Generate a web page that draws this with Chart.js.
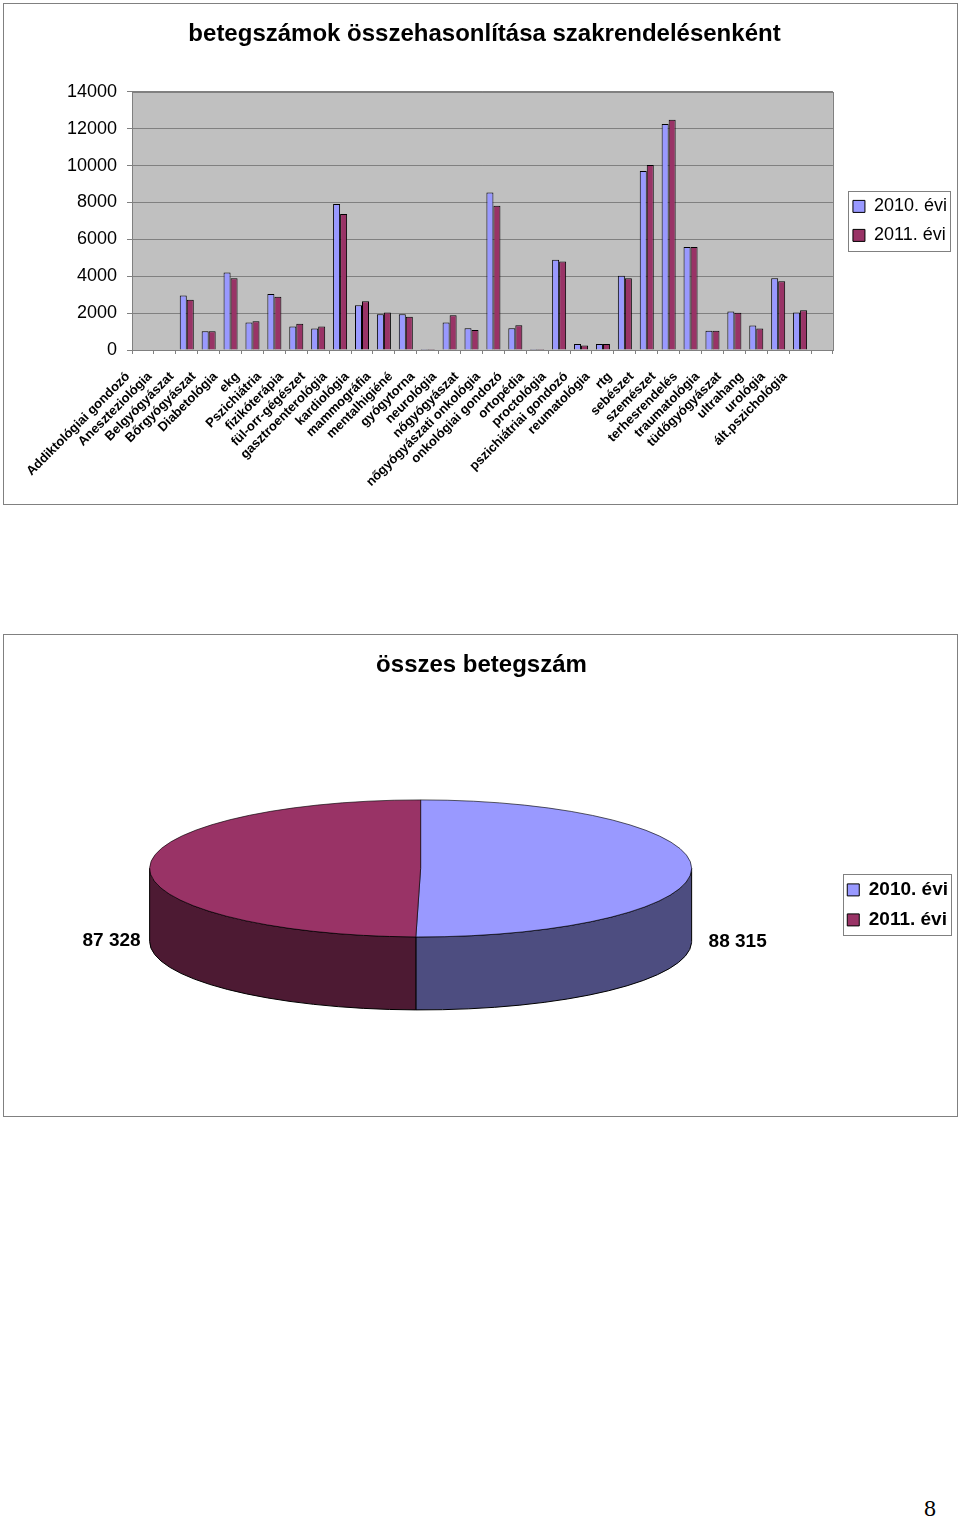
<!DOCTYPE html>
<html><head><meta charset="utf-8">
<script src="https://cdn.jsdelivr.net/npm/chart.js@4.4.1/dist/chart.umd.min.js"></script>
<style>
html,body{margin:0;padding:0;background:#fff;}
body{width:960px;height:1518px;position:relative;overflow:hidden;font-family:"Liberation Sans",Arial,sans-serif;}
.box{position:absolute;left:3px;width:953px;border:1px solid #808080;background:#fff;}
#box1{top:3px;height:500px;}
#box2{top:634px;height:481px;}
canvas{display:block;}
#pageno{position:absolute;left:924px;top:1496px;line-height:24px;font-family:"Liberation Serif","Times New Roman",serif;font-size:24px;color:#000;}
</style></head><body>
<div class="box" id="box1"><canvas id="c1" width="953" height="500"></canvas></div>
<div class="box" id="box2"><canvas id="c2" width="953" height="481"></canvas></div>
<div id="pageno">8</div>
<script>
const FONT = '"Liberation Sans", Arial, Helvetica, sans-serif';

// ---- data: bar chart ----
const barTitle = 'betegszámok összehasonlítása szakrendelésenként';
const categories = ['Addiktológiai gondozó','Aneszteziológia','Belgyógyászat','Bőrgyógyászat','Diabetológia','ekg','Pszichiátria','fizikóterápia','fül-orr-gégészet','gasztroenterológia','kardiológia','mammográfia','mentalhigiéné','gyógytorna','neurológia','nőgyógyászat','nőgyógyászati onkológia','onkológiai gondozó','ortopédia','proctológia','pszichiátriai gondozó','reumatológia','rtg','sebészet','szemészet','terhesrendelés','traumatológia','tüdőgyógyászat','ultrahang','urológia','ált.pszichológia',''];
const seriesNames = ['2010. évi','2011. évi'];
const values2010 = [null, null, 2960, 1020, 4200, 1490, 3030, 1270, 1160, 7920, 2420, 1940, 1940, 60, 1490, 1180, 8540, 1180, 60, 4900, 330, 330, 4030, 9700, 12250, 5580, 1040, 2090, 1330, 3890, 2040, null];
const values2011 = [null, null, 2730, 1020, 3890, 1560, 2890, 1420, 1270, 7380, 2640, 2040, 1800, 60, 1890, 1090, 7820, 1340, 60, 4800, 240, 330, 3890, 10030, 12490, 5580, 1040, 2020, 1160, 3730, 2160, null];
const yMin = 0, yMax = 14000, yStep = 2000;

// ---- data: pie chart ----
const pieTitle = 'összes betegszám';
const pieLabels = ['2010. évi','2011. évi'];
const pieValues = [88315, 87328];

const fmtThousands = v => String(v).replace(/\B(?=(\d{3})+(?!\d))/g, ' ');

const plotBg = {
  id: 'plotBg',
  beforeDraw(chart, args, o) {
    const {ctx, chartArea: a} = chart;
    ctx.save(); ctx.fillStyle = o.color;
    ctx.fillRect(a.left, a.top, a.right - a.left, a.bottom - a.top);
    ctx.restore();
  },
  beforeDatasetsDraw(chart, args, o) {
    const {ctx, chartArea: a} = chart;
    ctx.save(); ctx.strokeStyle = o.border; ctx.lineWidth = 1;
    ctx.strokeRect(Math.round(a.left) + 0.5, Math.round(a.top) + 0.5, Math.round(a.right - a.left), Math.round(a.bottom - a.top));
    ctx.restore();
  }
};

const legendFrame = {
  id: 'legendFrame',
  afterLayout(chart, args, o) {
    if (o.shift && chart.legend) { chart.legend.left += o.shift; chart.legend.right += o.shift; }
  },
  afterDraw(chart, args, o) {
    const hb = chart.legend && chart.legend.legendHitBoxes;
    if (!hb || !hb.length) return;
    let l = Infinity, t = Infinity, r = -Infinity, b = -Infinity;
    hb.forEach(h => { l = Math.min(l, h.left); t = Math.min(t, h.top); r = Math.max(r, h.left + h.width); b = Math.max(b, h.top + h.height); });
    const ctx = chart.ctx;
    ctx.save(); ctx.strokeStyle = o.color; ctx.lineWidth = 1;
    const x0 = Math.round(l - o.padLeft) + 0.5, y0 = Math.round(t - o.padTop) + 0.5;
    ctx.strokeRect(x0, y0, Math.round(r + o.padRight - x0), Math.round(b + o.padBottom - y0));
    ctx.restore();
  }
};

const pie3d = {
  id: 'pie3d',
  beforeDatasetsDraw(chart, args, o) {
    const meta = chart.getDatasetMeta(0);
    const ctx = chart.ctx;
    const cx = meta.data[0].x, cy = meta.data[0].y;
    const k = o.tilt, depth = o.depth;
    const top = cy - depth / 2;
    ctx.save();
    meta.data.forEach((arc, i) => {
      const r = arc.outerRadius;
      const a1 = arc.startAngle, a2 = arc.endAngle;
      for (let off = -2 * Math.PI; off <= 2 * Math.PI + 1e-9; off += 2 * Math.PI) {
        const s = Math.max(a1 + off, 0), e = Math.min(a2 + off, Math.PI);
        if (e <= s) continue;
        ctx.beginPath();
        ctx.ellipse(cx, top, r, r * k, 0, s, e, false);
        ctx.lineTo(cx + r * Math.cos(e), top + r * k * Math.sin(e) + depth);
        ctx.ellipse(cx, top + depth, r, r * k, 0, e, s, true);
        ctx.closePath();
        ctx.fillStyle = o.sideColors[i];
        ctx.fill();
        ctx.lineWidth = 1; ctx.strokeStyle = '#000';
        ctx.stroke();
      }
    });
    ctx.translate(cx, top);
    ctx.scale(1, k);
    ctx.translate(-cx, -cy);
  },
  afterDatasetsDraw(chart, args, o) {
    const ctx = chart.ctx;
    ctx.restore();
    const meta = chart.getDatasetMeta(0);
    const data = chart.data.datasets[0].data;
    const k = o.tilt, depth = o.depth;
    ctx.save();
    ctx.font = o.font;
    ctx.fillStyle = '#000';
    ctx.textBaseline = 'middle';
    meta.data.forEach((arc, i) => {
      const mid = (arc.startAngle + arc.endAngle) / 2;
      const r = arc.outerRadius;
      const c = Math.cos(mid);
      const x = arc.x + c * (r + o.labelGap) + o.labelShift;
      const y = arc.y - depth / 2 + r * k * Math.sin(mid) + depth;
      ctx.textAlign = c >= 0 ? 'left' : 'right';
      ctx.fillText(fmtThousands(data[i]), x, y);
    });
    ctx.restore();
  }
};

new Chart(document.getElementById('c1'), {
  type: 'bar',
  data: {
    labels: categories,
    datasets: [
      {label: seriesNames[0], data: values2010, backgroundColor: '#9999FF', borderColor: '#000', borderWidth: 1, categoryPercentage: 0.64, barPercentage: 1},
      {label: seriesNames[1], data: values2011, backgroundColor: '#993366', borderColor: '#000', borderWidth: 1, categoryPercentage: 0.64, barPercentage: 1}
    ]
  },
  options: {
    responsive: false, animation: false, devicePixelRatio: 1,
    layout: {padding: {left: 17, right: 9, top: 0, bottom: 0}},
    scales: {
      x: {
        grid: {display: true, drawOnChartArea: false, drawTicks: true, tickLength: 4, color: '#808080', offset: true},
        border: {display: true, color: '#808080'},
        ticks: {autoSkip: false, minRotation: 45, maxRotation: 45, padding: 15, labelOffset: -15, color: '#000', font: {family: FONT, size: 13, weight: 'bold'}},
        afterFit(s) { s.height = 154; }
      },
      y: {
        min: yMin, max: yMax,
        ticks: {stepSize: yStep, padding: 10, color: '#000', font: {family: FONT, size: 18}, callback: v => String(v)},
        grid: {color: '#808080', tickLength: 5, drawTicks: true},
        border: {display: true, color: '#808080'},
        afterFit(s) { s.width = 111; }
      }
    },
    plugins: {
      title: {display: true, text: barTitle, color: '#000', font: {family: FONT, size: 24, weight: 'bold'}, padding: {top: 16, bottom: 43}},
      legend: {position: 'right', align: 'center', fullSize: false, labels: {boxWidth: 12, boxHeight: 12, padding: 11, color: '#000', font: {family: FONT, size: 18}}},
      tooltip: {enabled: false},
      plotBg: {color: '#C0C0C0', border: '#808080'},
      legendFrame: {shift: 9, color: '#808080', padLeft: 5, padRight: 3, padTop: 6, padBottom: 7}
    }
  },
  plugins: [plotBg, legendFrame]
});

new Chart(document.getElementById('c2'), {
  type: 'pie',
  data: {
    labels: pieLabels,
    datasets: [{data: pieValues, backgroundColor: ['#9999FF', '#993366'], borderColor: '#000', borderWidth: 1, radius: 271, clip: false}]
  },
  options: {
    responsive: false, animation: false, devicePixelRatio: 1,
    layout: {padding: {left: 2, right: 0, top: 0, bottom: 0}},
    plugins: {
      title: {display: true, text: pieTitle, color: '#000', font: {family: FONT, size: 24, weight: 'bold'}, padding: {top: 16, bottom: 14}},
      legend: {position: 'right', align: 'center', fullSize: false, labels: {boxWidth: 12, boxHeight: 12, padding: 11, color: '#000', font: {family: FONT, size: 19, weight: 'bold'}}},
      tooltip: {enabled: false},
      pie3d: {tilt: 0.2528, depth: 73, sideColors: ['#4D4D80', '#4D1A33'], labelGap: 13, labelShift: 4, font: 'bold 19px ' + FONT},
      legendFrame: {shift: 1, color: '#808080', padLeft: 4, padRight: 3, padTop: 6, padBottom: 6}
    }
  },
  plugins: [pie3d, legendFrame]
});
</script>
</body></html>
